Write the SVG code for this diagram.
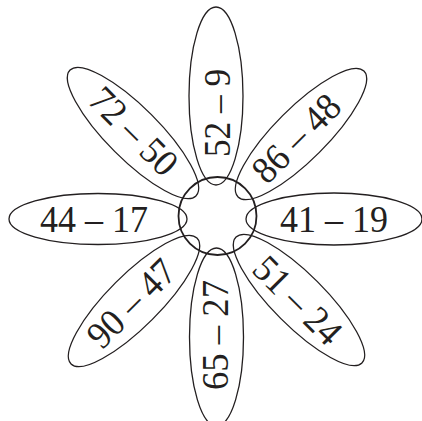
<svg xmlns="http://www.w3.org/2000/svg" width="422" height="421" viewBox="0 0 422 421">
<style>
.petal{fill:none;stroke:#231f20;stroke-width:1.3}
.core{fill:none;stroke:#231f20;stroke-width:1.8}
.t{font-family:"Liberation Serif","Times New Roman",serif;font-size:38px;fill:#231f20;text-anchor:middle}
</style>
<rect width="422" height="421" fill="#fff"/>
<g id="petal-top"><ellipse class="petal" cx="216" cy="96" rx="27" ry="89"/><text class="t" transform="translate(216.5,113) rotate(-90)" x="0" y="13" textLength="88" lengthAdjust="spacingAndGlyphs">52 – 9</text></g>
<g id="petal-bottom"><ellipse class="petal" cx="216.5" cy="337" rx="27" ry="89"/><text class="t" transform="translate(215,335) rotate(-90)" x="0" y="13" textLength="110" lengthAdjust="spacingAndGlyphs">65 – 27</text></g>
<g id="petal-left"><ellipse class="petal" cx="98" cy="219" rx="89" ry="25.5"/><text class="t" x="94" y="232" textLength="108" lengthAdjust="spacingAndGlyphs">44 – 17</text></g>
<g id="petal-right"><ellipse class="petal" cx="334" cy="219" rx="88" ry="26"/><text class="t" x="334" y="232" textLength="108" lengthAdjust="spacingAndGlyphs">41 – 19</text></g>
<g id="petal-tl"><ellipse class="petal" transform="translate(133,133) rotate(-45)" cx="0" cy="0" rx="26" ry="89"/><text class="t" transform="translate(134,131) rotate(45)" x="0" y="13" textLength="108" lengthAdjust="spacingAndGlyphs">72 – 50</text></g>
<g id="petal-tr"><ellipse class="petal" transform="translate(301,134) rotate(45)" cx="0" cy="0" rx="26" ry="89"/><text class="t" transform="translate(296,138) rotate(-45)" x="0" y="13" textLength="108" lengthAdjust="spacingAndGlyphs">86 – 48</text></g>
<g id="petal-bl"><ellipse class="petal" transform="translate(134,301) rotate(45)" cx="0" cy="0" rx="26" ry="89"/><text class="t" transform="translate(131,303) rotate(-45)" x="0" y="13" textLength="108" lengthAdjust="spacingAndGlyphs">90 – 47</text></g>
<g id="petal-br"><ellipse class="petal" transform="translate(299,300) rotate(-45)" cx="0" cy="0" rx="26" ry="89"/><text class="t" transform="translate(298,300) rotate(45)" x="0" y="13" textLength="108" lengthAdjust="spacingAndGlyphs">51 – 24</text></g>
<g id="center"><circle class="core" cx="217.5" cy="216" r="39"/></g>
<g id="connectors"/>
</svg>
